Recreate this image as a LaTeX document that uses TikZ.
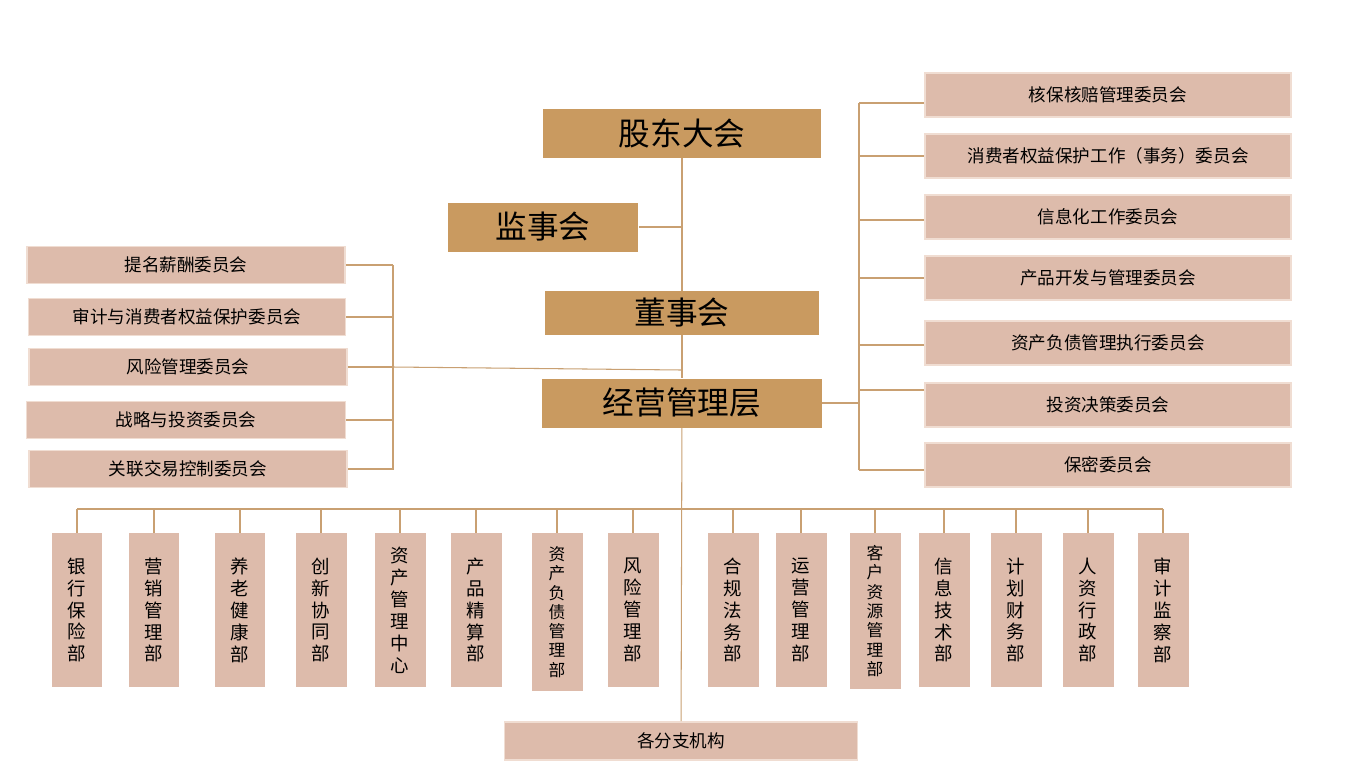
\documentclass[tikz,border=0pt]{standalone}
\usepackage{fontspec}
\newfontfamily\cjk{Noto Sans CJK SC}
\usetikzlibrary{positioning}
\definecolor{gold}{HTML}{C99A60}
\definecolor{pinkbox}{HTML}{DDBBAB}
\definecolor{pinkedge}{HTML}{F0DDD2}
\definecolor{wire}{HTML}{C9A072}
\tikzstyle{top} = [rectangle, fill=gold, minimum height=0.98cm, font=\cjk\fontsize{18}{20}\selectfont, inner sep=0pt]
\tikzstyle{comm} = [rectangle, fill=pinkbox, draw=pinkedge, line width=1pt, minimum height=0.74cm, font=\cjk\fontsize{10}{12}\selectfont, inner sep=0pt]
\tikzstyle{dept} = [rectangle, fill=pinkbox, minimum width=1.02cm, minimum height=3.08cm, align=center, font=\cjk\fontsize{10.5}{12.5}\selectfont, inner sep=0pt]
\tikzstyle{line} = [draw=wire, line width=0.6pt]

\begin{document}
\begin{tikzpicture}[x=0.02cm, y=-0.02cm]
		\useasboundingbox[fill=white] (0,0) rectangle (1351,778);
		% top line
		\node[top, minimum width=5.58cm] (gd) at (682,133) {股东大会};
		\node[top, minimum width=3.82cm] (js) at (543,227) {监事会};
		\node[top, minimum width=5.5cm, minimum height=0.88cm] (ds) at (682,313) {董事会};
		\node[top, minimum width=5.6cm] (jy) at (682,403) {经营管理层};
		\node[comm, minimum width=7.06cm, minimum height=0.76cm] (fz) at (681,741) {各分支机构};
		\coordinate (spmid) at (682,227);
		\coordinate (spbot) at (682,509);
		\draw[line] (gd) -- (ds);
		\draw[line] (js) -- (spmid);
		\draw[line] (ds) -- (jy);
		\draw[line] (jy) -- (fz);
		% left committees
		\node[comm, minimum width=6.36cm] (tm) at (186,265) {提名薪酬委员会};
		\node[comm, minimum width=6.34cm] (sj) at (187,317) {审计与消费者权益保护委员会};
		\node[comm, minimum width=6.36cm] (fx) at (188,367) {风险管理委员会};
		\node[comm, minimum width=6.38cm] (zl) at (186,420) {战略与投资委员会};
		\node[comm, minimum width=6.36cm] (gl) at (188,469) {关联交易控制委员会};
		\coordinate (lt) at (393,265);
		\coordinate (lb) at (393,470);
		\coordinate (lm) at (393,367);
		\coordinate (lj) at (682,370);
		\draw[line] (lt) -- (lb);
		\draw[line] (lm) -- (lj);
		\draw[line] (tm.east) -- (lt);
		\draw[line] (sj.east) -- (sj.east -| lt);
		\draw[line] (fx.east) -- (lm);
		\draw[line] (zl.east) -- (zl.east -| lt);
		\draw[line] (gl.east) -- (gl.east -| lt);
		% right committees
		\node[comm, minimum width=7.32cm, minimum height=0.88cm] (hb) at (1108,95) {核保核赔管理委员会};
		\node[comm, minimum width=7.32cm, minimum height=0.88cm] (xf) at (1108,156) {消费者权益保护工作（事务）委员会};
		\node[comm, minimum width=7.32cm, minimum height=0.88cm] (xx) at (1108,217) {信息化工作委员会};
		\node[comm, minimum width=7.32cm, minimum height=0.88cm] (cp) at (1108,278) {产品开发与管理委员会};
		\node[comm, minimum width=7.32cm, minimum height=0.88cm] (zc) at (1108,343) {资产负债管理执行委员会};
		\node[comm, minimum width=7.32cm, minimum height=0.88cm] (tz) at (1108,405) {投资决策委员会};
		\node[comm, minimum width=7.32cm, minimum height=0.88cm] (bm) at (1108,465) {保密委员会};
		\coordinate (rt) at (859,103);
		\coordinate (rb) at (859,470);
		\draw[line] (rt) -- (rb);
		\draw[line] (jy.east) -- (jy.east -| rt);
		\draw[line] (rt) -- (rt -| hb.west);
		\draw[line] (xf.west -| rt) -- (xf.west);
		\draw[line] (859,220) -- (xx.west |- 0,220);
		\draw[line] (cp.west -| rt) -- (cp.west);
		\draw[line] (859,345) -- (zc.west |- 0,345);
		\draw[line] (859,390) -- (tz.west |- 0,390);
		\draw[line] (rb) -- (rb -| bm.west);
		% departments
		\draw[line] (77,509) -- (1163,509);
		\foreach \x/\n/\t in {77/d1/银\\行\\保\\险\\部, 154/d2/营\\销\\管\\理\\部, 240/d3/养\\老\\健\\康\\部,
			321/d4/创\\新\\协\\同\\部, 400/d5/资\\产\\管\\理\\中\\心, 476/d6/产\\品\\精\\算\\部,
			633/d8/风\\险\\管\\理\\部, 733/d9/合\\规\\法\\务\\部, 801/d10/运\\营\\管\\理\\部,
			944/d12/信\\息\\技\\术\\部, 1016/d13/计\\划\\财\\务\\部, 1088/d14/人\\资\\行\\政\\部,
			1163/d15/审\\计\\监\\察\\部} {
			\node[dept] (\n) at (\x,610) {\t};
			\draw[line] (\n.north) -- (\x,509);
		}
		\node[dept, minimum height=3.16cm, font=\cjk\fontsize{9.5}{11}\selectfont] (d7) at (557,612) {资\\产\\负\\债\\管\\理\\部};
		\node[dept, minimum height=3.12cm, font=\cjk\fontsize{9.5}{11}\selectfont] (d11) at (875,611) {客\\户\\资\\源\\管\\理\\部};
		\draw[line] (d7.north) -- (557,509);
		\draw[line] (d11.north) -- (875,509);
	\end{tikzpicture}
\end{document}
